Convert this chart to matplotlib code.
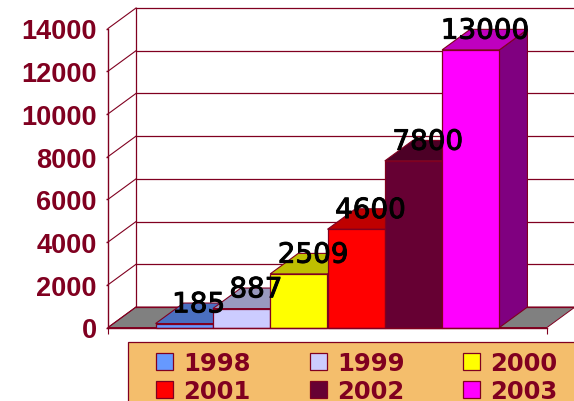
import numpy as np
import matplotlib.pyplot as plt
import matplotlib.patheffects as pe
from matplotlib.patches import Polygon, Rectangle

years = ['1998', '1999', '2000', '2001', '2002', '2003']
values = [185, 887, 2509, 4600, 7800, 13000]
front_colors = ['#6699FF', '#CCCCFF', '#FFFF00', '#FF0000', '#660033', '#FF00FF']
top_colors = ['#4A6FC0', '#9999BF', '#BFBF00', '#BF0000', '#4C0026', '#BF00BF']
side_colors = ['#334D80', '#666680', '#808000', '#800000', '#330019', '#800080']
yticks = [0, 2000, 4000, 6000, 8000, 10000, 12000, 14000]

dark_red = '#800020'
W, H = 574, 402

# 3d look: how far the back plane is shifted from the front plane
dx = 0.489
dy = 960
xmin, xmax = -0.83, 6.83

fig = plt.figure(figsize=(W / 100, H / 100), dpi=100)
ax = fig.add_axes([108 / W, 1 - 328.5 / H, 439 / W, 299 / H])
ax.set_xlim(xmin, xmax)
ax.set_ylim(0, 14000)
ax.patch.set_visible(False)

# floor
ax.add_patch(Polygon([[xmin, 0], [xmax, 0], [xmax + dx, dy], [xmin + dx, dy]],
                     facecolor='#808080', edgecolor=dark_red, lw=0.7, clip_on=False, zorder=1))

# back wall and left wall grid
for t in yticks:
    ax.plot([xmin, xmin + dx], [t, t + dy], color=dark_red, lw=0.8, clip_on=False, zorder=1)
    ax.plot([xmin + dx, xmax + dx + 1], [t + dy, t + dy], color=dark_red, lw=0.9, clip_on=False, zorder=1)
ax.plot([xmin + dx, xmin + dx], [dy, 14000 + dy], color=dark_red, lw=0.9, clip_on=False, zorder=1)

# bars, left to right so that each one covers the side of the last
handles = []
for i, v in enumerate(values):
    z = 3 + i
    ax.add_patch(Polygon([[i + 1, 0], [i + 1 + dx, dy], [i + 1 + dx, v + dy], [i + 1, v]],
                         facecolor=side_colors[i], edgecolor=dark_red, lw=0.8, clip_on=False, zorder=z))
    ax.add_patch(Polygon([[i, v], [i + 1, v], [i + 1 + dx, v + dy], [i + dx, v + dy]],
                         facecolor=top_colors[i], edgecolor=dark_red, lw=0.8, clip_on=False, zorder=z))
    b = ax.bar(i + 0.5, v, width=1, color=front_colors[i], edgecolor=dark_red, lw=0.9,
               label=years[i], zorder=z, clip_on=False)
    handles.append(b)

for i, v in enumerate(values):
    t = ax.text(i + 0.75, v + 900, str(v), ha='center', va='center', color='black',
                family='DejaVu Sans', fontsize=20, zorder=20)
    t.set_path_effects([pe.withStroke(linewidth=0.7, foreground='black')])

# axes
for s in ['top', 'right']:
    ax.spines[s].set_visible(False)
for s in ['left', 'bottom']:
    ax.spines[s].set_color(dark_red)
    ax.spines[s].set_linewidth(1)
    ax.spines[s].set_zorder(15)
ax.set_yticks(yticks)
ax.set_yticklabels([str(t) for t in yticks], family='Liberation Sans', weight='bold',
                   fontsize=19.5, color=dark_red)
ax.set_xticks([xmin, xmax])
ax.set_xticklabels([])
ax.tick_params(axis='y', length=1.5, width=1, color=dark_red, pad=6.5)
ax.tick_params(axis='x', length=4, width=0.8, color=dark_red)

# legend box runs off the picture
fig.add_artist(Rectangle((128 / W, 1 - 412 / H), 470 / W, 69 / H, transform=fig.transFigure,
                         facecolor='#F4BE6C', edgecolor=dark_red, lw=0.9))
order = [0, 3, 1, 4, 2, 5]
leg = fig.legend([handles[i] for i in order], [years[i] for i in order], ncol=3,
                 loc='upper left', bbox_to_anchor=(156 / W, 1 - 352 / H), bbox_transform=fig.transFigure,
                 frameon=False, borderpad=0, borderaxespad=0,
                 prop={'family': 'DejaVu Sans', 'weight': 'bold', 'size': 17.5},
                 handlelength=0.7, handleheight=0.7, handletextpad=0.42,
                 columnspacing=2.42, labelspacing=0.16)
for t in leg.get_texts():
    t.set_color(dark_red)

plt.savefig('out.png', dpi=100)
